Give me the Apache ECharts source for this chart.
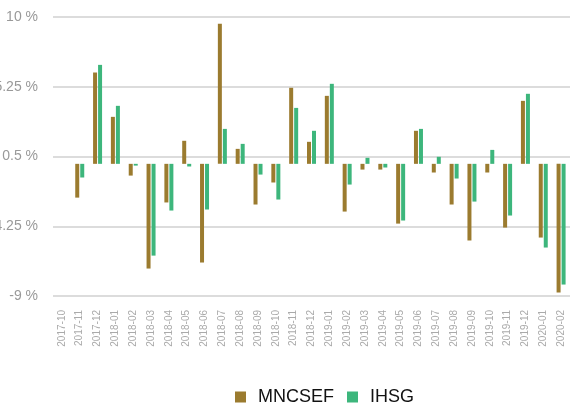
<!DOCTYPE html>
<html>
<head>
<meta charset="utf-8">
<script src="https://cdn.jsdelivr.net/npm/echarts@6/dist/echarts.min.js"></script>
<style>
  html, body { margin: 0; padding: 0; background: #fff; }
  #chart { width: 572px; height: 405px; }
</style>
</head>
<body>
<div id="chart"></div>
<script>
var months = ['2017-10', '2017-11', '2017-12', '2018-01', '2018-02', '2018-03', '2018-04', '2018-05',
  '2018-06', '2018-07', '2018-08', '2018-09', '2018-10', '2018-11', '2018-12', '2019-01', '2019-02',
  '2019-03', '2019-04', '2019-05', '2019-06', '2019-07', '2019-08', '2019-09', '2019-10', '2019-11',
  '2019-12', '2020-01', '2020-02'];

var mncsef = [null, -2.3, 6.22, 3.2, -0.8, -7.13, -2.63, 1.57, -6.72, 9.54, 1.02, -2.77, -1.27, 5.18,
  1.5, 4.63, -3.25, -0.39, -0.39, -4.07, 2.25, -0.59, -2.77, -5.22, -0.59, -4.34, 4.29, -5.02, -8.77];

var ihsg = [null, -0.93, 6.74, 3.95, -0.12, -6.25, -3.18, -0.18, -3.11, 2.38, 1.36, -0.73, -2.43, 3.81,
  2.25, 5.45, -1.41, 0.41, -0.25, -3.86, 2.38, 0.48, -1.0, -2.57, 0.95, -3.52, 4.77, -5.7, -8.22];

var yTicks = [-9, -4.25, 0.5, 5.25, 10];

var chart = echarts.init(document.getElementById('chart'));
chart.setOption({
  animation: false,
  textStyle: { fontFamily: 'Liberation Sans, Arial, sans-serif' },
  grid: { left: 53, right: 2, top: 17, bottom: 109, containLabel: false, outerBoundsMode: 'none' },
  legend: {
    top: 388,
    left: 235,
    padding: 0,
    icon: 'rect',
    itemWidth: 11,
    itemHeight: 11,
    itemGap: 13,
    textStyle: { fontSize: 18, color: '#111', padding: [0, 0, 0, 7] },
    data: ['MNCSEF', 'IHSG']
  },
  xAxis: {
    type: 'category',
    data: months,
    axisLine: { show: false },
    axisTick: { show: false },
    axisLabel: { rotate: 90, fontSize: 10, color: '#aaa', margin: 14, interval: 0 }
  },
  yAxis: {
    type: 'value',
    min: -9,
    max: 10,
    axisLine: { show: false },
    axisTick: { show: false, customValues: yTicks },
    axisLabel: {
      customValues: yTicks,
      fontSize: 14,
      color: '#999',
      margin: 15,
      formatter: function (v) { return v + ' %'; }
    },
    splitLine: { lineStyle: { color: '#d0d0d0', width: 1.5 } }
  },
  series: [
    { name: 'MNCSEF', type: 'bar', data: mncsef, barWidth: 4, barGap: '25%', itemStyle: { color: '#9b7b2f' } },
    { name: 'IHSG', type: 'bar', data: ihsg, barWidth: 4, itemStyle: { color: '#3db67c' } }
  ]
});
</script>
</body>
</html>
